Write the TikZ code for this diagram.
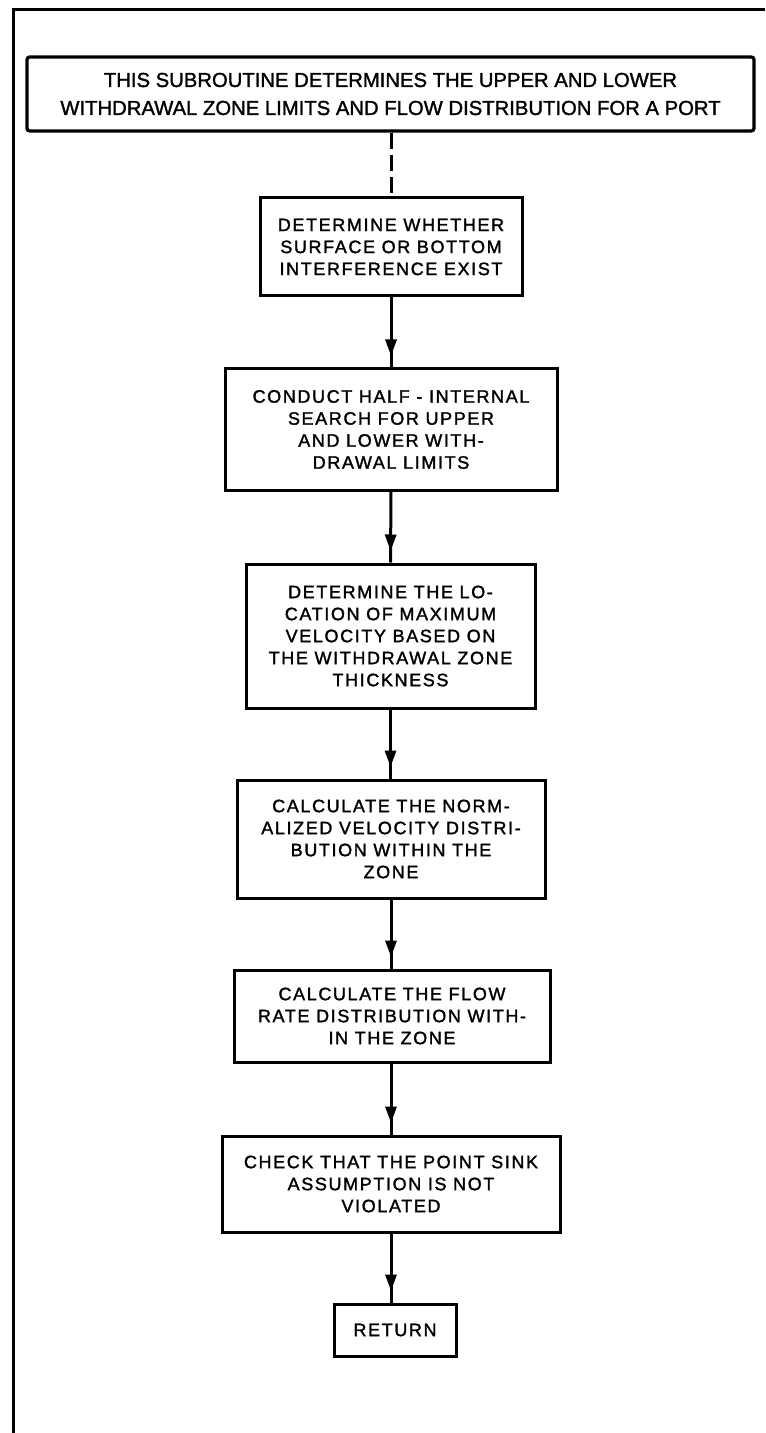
\documentclass[tikz,border=0pt]{standalone}
\usepackage{fontspec}
\setmainfont{Liberation Sans}
\newfontfamily\boxfont[LetterSpace=9,FakeBold=1.6]{Liberation Sans}
\newfontfamily\headfont[FakeBold=1.4]{Liberation Sans}
\usetikzlibrary{decorations.markings}

\begin{document}
\begin{tikzpicture}[x=0.75pt,y=-0.75pt,
  stepbox/.style={draw, line width=2.25pt, inner sep=0pt, align=center,
    font=\boxfont\fontsize{13.5}{16.5}\selectfont},
  headbox/.style={draw, line width=2.4pt, rounded corners=2pt, inner sep=0pt,
    align=center, font=\headfont\fontsize{15.2}{21}\selectfont},
  frameline/.style={line width=2.25pt},
  flow/.style={line width=2.25pt, postaction={decorate},
    decoration={markings,
      mark=at position -9pt with {\fill (0pt,0pt) -- (-12pt,4.5pt) -- (-12pt,-4.5pt) -- cycle;}}},
  dashflow/.style={line width=2.25pt, dash pattern=on 12pt off 4.5pt},
]
\useasboundingbox (0,0) rectangle (765,1433);

% page frame: top rule and left rule
\coordinate (fbl) at (13,1433);
\coordinate (ftl) at (13,10);
\coordinate (ftr) at (765,10);
\draw[frameline] (fbl) -- (ftl) -- (ftr);

% heading box
\node[headbox, minimum width=545.25pt, minimum height=55.5pt] (head) at (390.5,94)
  {THIS SUBROUTINE DETERMINES THE UPPER AND LOWER\\
   WITHDRAWAL ZONE LIMITS AND FLOW DISTRIBUTION FOR A PORT};

% processing steps
\node[stepbox, minimum width=196.5pt, minimum height=73.5pt] (b2) at (391,247)
  {DETERMINE WHETHER\\ SURFACE OR BOTTOM\\ INTERFERENCE EXIST};
\node[stepbox, minimum width=249pt, minimum height=90.75pt] (b3) at (391,429.5)
  {CONDUCT HALF - INTERNAL\\ SEARCH FOR UPPER\\ AND LOWER WITH-\\ DRAWAL LIMITS};
\node[stepbox, minimum width=216.75pt, minimum height=108pt] (b4) at (390.5,636)
  {DETERMINE THE LO-\\ CATION OF MAXIMUM\\ VELOCITY BASED ON\\ THE WITHDRAWAL ZONE\\ THICKNESS};
\node[stepbox, minimum width=231pt, minimum height=88.5pt] (b5) at (391,839)
  {CALCULATE THE NORM-\\ ALIZED VELOCITY DISTRI-\\ BUTION WITHIN THE\\ ZONE};
\node[stepbox, minimum width=237pt, minimum height=69pt] (b6) at (392,1016)
  {CALCULATE THE FLOW\\ RATE DISTRIBUTION WITH-\\ IN THE ZONE};
\node[stepbox, minimum width=253.5pt, minimum height=72pt] (b7) at (391,1184)
  {CHECK THAT THE POINT SINK\\ ASSUMPTION IS NOT\\ VIOLATED};
\node[stepbox, minimum width=91.5pt, minimum height=39pt] (ret) at (395,1330)
  {RETURN};

% connectors
\draw[dashflow] (head.south -| b2.north) -- (b2.north);
\draw[flow] (b2.south) -- (b3.north);
\draw[flow] (b3.south) -- (b4.north);
\draw[flow] (b4.south) -- (b4.south |- b5.north);
\draw[flow] (b5.south) -- (b5.south |- b6.north);
\draw[flow] (b6.south -| b5.south) -- (b5.south |- b7.north);
\draw[flow] (b7.south) -- (b7.south |- ret.north);
\end{tikzpicture}
\end{document}
